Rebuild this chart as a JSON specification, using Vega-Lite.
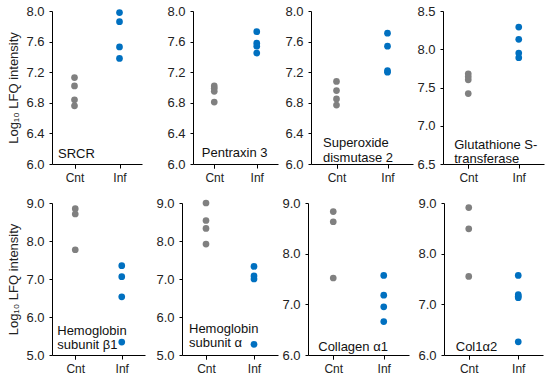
{
  "$schema": "https://vega.github.io/schema/vega-lite/v6.json",
  "padding": {"left": 7, "top": 5, "right": 2, "bottom": 2},
  "background": "white",
  "datasets": {
    "lfq": [
      {"protein": "SRCR", "group": "Cnt", "value": 7.13},
      {"protein": "SRCR", "group": "Cnt", "value": 7.02},
      {"protein": "SRCR", "group": "Cnt", "value": 6.84},
      {"protein": "SRCR", "group": "Cnt", "value": 6.76},
      {"protein": "SRCR", "group": "Inf", "value": 7.98},
      {"protein": "SRCR", "group": "Inf", "value": 7.86},
      {"protein": "SRCR", "group": "Inf", "value": 7.53},
      {"protein": "SRCR", "group": "Inf", "value": 7.38},
      {"protein": "PTX3", "group": "Cnt", "value": 7.02},
      {"protein": "PTX3", "group": "Cnt", "value": 6.99},
      {"protein": "PTX3", "group": "Cnt", "value": 6.95},
      {"protein": "PTX3", "group": "Cnt", "value": 6.81},
      {"protein": "PTX3", "group": "Inf", "value": 7.73},
      {"protein": "PTX3", "group": "Inf", "value": 7.58},
      {"protein": "PTX3", "group": "Inf", "value": 7.54},
      {"protein": "PTX3", "group": "Inf", "value": 7.45},
      {"protein": "SOD2", "group": "Cnt", "value": 7.08},
      {"protein": "SOD2", "group": "Cnt", "value": 6.96},
      {"protein": "SOD2", "group": "Cnt", "value": 6.85},
      {"protein": "SOD2", "group": "Cnt", "value": 6.77},
      {"protein": "SOD2", "group": "Inf", "value": 7.71},
      {"protein": "SOD2", "group": "Inf", "value": 7.54},
      {"protein": "SOD2", "group": "Inf", "value": 7.22},
      {"protein": "SOD2", "group": "Inf", "value": 7.2},
      {"protein": "GST", "group": "Cnt", "value": 7.68},
      {"protein": "GST", "group": "Cnt", "value": 7.64},
      {"protein": "GST", "group": "Cnt", "value": 7.6},
      {"protein": "GST", "group": "Cnt", "value": 7.42},
      {"protein": "GST", "group": "Inf", "value": 8.29},
      {"protein": "GST", "group": "Inf", "value": 8.13},
      {"protein": "GST", "group": "Inf", "value": 7.95},
      {"protein": "GST", "group": "Inf", "value": 7.89},
      {"protein": "HBB", "group": "Cnt", "value": 8.85},
      {"protein": "HBB", "group": "Cnt", "value": 8.71},
      {"protein": "HBB", "group": "Cnt", "value": 7.77},
      {"protein": "HBB", "group": "Inf", "value": 7.35},
      {"protein": "HBB", "group": "Inf", "value": 7.06},
      {"protein": "HBB", "group": "Inf", "value": 6.53},
      {"protein": "HBB", "group": "Inf", "value": 5.34},
      {"protein": "HBA", "group": "Cnt", "value": 9.0},
      {"protein": "HBA", "group": "Cnt", "value": 8.54},
      {"protein": "HBA", "group": "Cnt", "value": 8.33},
      {"protein": "HBA", "group": "Cnt", "value": 7.92},
      {"protein": "HBA", "group": "Inf", "value": 7.33},
      {"protein": "HBA", "group": "Inf", "value": 7.08},
      {"protein": "HBA", "group": "Inf", "value": 7.0},
      {"protein": "HBA", "group": "Inf", "value": 5.28},
      {"protein": "COL1A1", "group": "Cnt", "value": 8.83},
      {"protein": "COL1A1", "group": "Cnt", "value": 8.63},
      {"protein": "COL1A1", "group": "Cnt", "value": 7.52},
      {"protein": "COL1A1", "group": "Inf", "value": 7.57},
      {"protein": "COL1A1", "group": "Inf", "value": 7.18},
      {"protein": "COL1A1", "group": "Inf", "value": 6.95},
      {"protein": "COL1A1", "group": "Inf", "value": 6.66},
      {"protein": "COL1A2", "group": "Cnt", "value": 8.91},
      {"protein": "COL1A2", "group": "Cnt", "value": 8.49},
      {"protein": "COL1A2", "group": "Cnt", "value": 7.55},
      {"protein": "COL1A2", "group": "Inf", "value": 7.57},
      {"protein": "COL1A2", "group": "Inf", "value": 7.19},
      {"protein": "COL1A2", "group": "Inf", "value": 7.16},
      {"protein": "COL1A2", "group": "Inf", "value": 7.13},
      {"protein": "COL1A2", "group": "Inf", "value": 6.26}
    ],
    "labels": [
      {"protein": "SRCR", "label": ["SRCR"]},
      {"protein": "PTX3", "label": ["Pentraxin  3"]},
      {"protein": "SOD2", "label": ["Superoxide", "dismutase  2"]},
      {"protein": "GST", "label": ["Glutathione  S-", "transferase"]},
      {"protein": "HBB", "label": ["Hemoglobin", "subunit  β1"]},
      {"protein": "HBA", "label": ["Hemoglobin", "subunit  α"]},
      {"protein": "COL1A1", "label": ["Collagen  α1"]},
      {"protein": "COL1A2", "label": ["Col1α2"]}
    ]
  },
  "vconcat": [
    {
      "spacing": 24,
      "hconcat": [
        {
          "width": 90, "height": 153,
          "layer": [
            {
              "data": {"name": "lfq"},
              "transform": [{"filter": "datum.protein === 'SRCR'"}],
              "mark": {"type": "circle", "size": 45, "opacity": 1},
              "encoding": {
                "x": {"field": "group", "type": "nominal", "scale": {"domain": ["Cnt", "Inf"], "paddingInner": 0, "paddingOuter": 0}, "axis": {"title": null}},
                "y": {"field": "value", "type": "quantitative", "scale": {"domain": [6, 8], "nice": false, "zero": false}, "axis": {"values": [6, 6.4, 6.8, 7.2, 7.6, 8], "tickCount": 20, "format": ".1f", "labelOverlap": false, "title": "Log₁₀ LFQ intensity"}},
                "color": {"field": "group", "type": "nominal", "scale": {"domain": ["Cnt", "Inf"], "range": ["#808080", "#0070C0"]}, "legend": null}
              }
            },
            {
              "data": {"name": "labels"},
              "transform": [{"filter": "datum.protein === 'SRCR'"}],
              "mark": {"type": "text", "align": "left", "baseline": "bottom", "dx": -16.5, "dy": -3, "fontSize": 13, "lineHeight": 15, "font": "Liberation Sans", "color": "#111"},
              "encoding": {
                "x": {"datum": "Cnt", "type": "nominal"},
                "y": {"datum": 6, "type": "quantitative"},
                "text": {"field": "label"}
              }
            }
          ]
        },
        {
          "spacing": 6,
          "hconcat": [
            {
              "width": 85, "height": 153,
              "layer": [
                {
                  "data": {"name": "lfq"},
                  "transform": [{"filter": "datum.protein === 'PTX3'"}],
                  "mark": {"type": "circle", "size": 45, "opacity": 1},
                  "encoding": {
                    "x": {"field": "group", "type": "nominal", "scale": {"domain": ["Cnt", "Inf"], "paddingInner": 0, "paddingOuter": 0}, "axis": {"title": null}},
                    "y": {"field": "value", "type": "quantitative", "scale": {"domain": [6, 8], "nice": false, "zero": false}, "axis": {"values": [6, 6.4, 6.8, 7.2, 7.6, 8], "tickCount": 20, "format": ".1f", "labelOverlap": false, "title": null}},
                    "color": {"field": "group", "type": "nominal", "scale": {"domain": ["Cnt", "Inf"], "range": ["#808080", "#0070C0"]}, "legend": null}
                  }
                },
                {
                  "data": {"name": "labels"},
                  "transform": [{"filter": "datum.protein === 'PTX3'"}],
                  "mark": {"type": "text", "align": "left", "baseline": "bottom", "dx": -12.5, "dy": -4, "fontSize": 13, "lineHeight": 15, "font": "Liberation Sans", "color": "#111"},
                  "encoding": {
                    "x": {"datum": "Cnt", "type": "nominal"},
                    "y": {"datum": 6, "type": "quantitative"},
                    "text": {"field": "label"}
                  }
                }
              ]
            },
            {
              "spacing": 3,
              "hconcat": [
                {
                  "width": 102, "height": 153,
                  "layer": [
                    {
                      "data": {"name": "lfq"},
                      "transform": [{"filter": "datum.protein === 'SOD2'"}],
                      "mark": {"type": "circle", "size": 45, "opacity": 1},
                      "encoding": {
                        "x": {"field": "group", "type": "nominal", "scale": {"domain": ["Cnt", "Inf"], "paddingInner": 0, "paddingOuter": 0}, "axis": {"title": null}},
                        "y": {"field": "value", "type": "quantitative", "scale": {"domain": [6, 8], "nice": false, "zero": false}, "axis": {"values": [6, 6.4, 6.8, 7.2, 7.6, 8], "tickCount": 20, "format": ".1f", "labelOverlap": false, "title": null}},
                        "color": {"field": "group", "type": "nominal", "scale": {"domain": ["Cnt", "Inf"], "range": ["#808080", "#0070C0"]}, "legend": null}
                      }
                    },
                    {
                      "data": {"name": "labels"},
                      "transform": [{"filter": "datum.protein === 'SOD2'"}],
                      "mark": {"type": "text", "align": "left", "baseline": "bottom", "dx": -13.5, "dy": -14, "fontSize": 13, "lineHeight": 15, "font": "Liberation Sans", "color": "#111"},
                      "encoding": {
                        "x": {"datum": "Cnt", "type": "nominal"},
                        "y": {"datum": 6, "type": "quantitative"},
                        "text": {"field": "label"}
                      }
                    }
                  ]
                },
                {
                  "width": 101, "height": 153,
                  "layer": [
                    {
                      "data": {"name": "lfq"},
                      "transform": [{"filter": "datum.protein === 'GST'"}],
                      "mark": {"type": "circle", "size": 45, "opacity": 1},
                      "encoding": {
                        "x": {"field": "group", "type": "nominal", "scale": {"domain": ["Cnt", "Inf"], "paddingInner": 0, "paddingOuter": 0}, "axis": {"title": null}},
                        "y": {"field": "value", "type": "quantitative", "scale": {"domain": [6.5, 8.5], "nice": false, "zero": false}, "axis": {"values": [6.5, 7, 7.5, 8, 8.5], "tickCount": 20, "format": ".1f", "labelOverlap": false, "title": null}},
                        "color": {"field": "group", "type": "nominal", "scale": {"domain": ["Cnt", "Inf"], "range": ["#808080", "#0070C0"]}, "legend": null}
                      }
                    },
                    {
                      "data": {"name": "labels"},
                      "transform": [{"filter": "datum.protein === 'GST'"}],
                      "mark": {"type": "text", "align": "left", "baseline": "bottom", "dx": -14, "dy": -12, "fontSize": 13, "lineHeight": 14, "font": "Liberation Sans", "color": "#111"},
                      "encoding": {
                        "x": {"datum": "Cnt", "type": "nominal"},
                        "y": {"datum": 6.5, "type": "quantitative"},
                        "text": {"field": "label"}
                      }
                    }
                  ]
                }
              ]
            }
          ]
        }
      ]
    },
    {
      "spacing": 10,
      "hconcat": [
        {
          "width": 93, "height": 152,
          "layer": [
            {
              "data": {"name": "lfq"},
              "transform": [{"filter": "datum.protein === 'HBB'"}],
              "mark": {"type": "circle", "size": 45, "opacity": 1},
              "encoding": {
                "x": {"field": "group", "type": "nominal", "scale": {"domain": ["Cnt", "Inf"], "paddingInner": 0, "paddingOuter": 0}, "axis": {"title": null}},
                "y": {"field": "value", "type": "quantitative", "scale": {"domain": [5, 9], "nice": false, "zero": false}, "axis": {"values": [5, 6, 7, 8, 9], "tickCount": 20, "format": ".1f", "labelOverlap": false, "title": "Log₁₀ LFQ intensity"}},
                "color": {"field": "group", "type": "nominal", "scale": {"domain": ["Cnt", "Inf"], "range": ["#808080", "#0070C0"]}, "legend": null}
              }
            },
            {
              "data": {"name": "labels"},
              "transform": [{"filter": "datum.protein === 'HBB'"}],
              "mark": {"type": "text", "align": "left", "baseline": "bottom", "dx": -18, "dy": -17, "fontSize": 13, "lineHeight": 14, "font": "Liberation Sans", "color": "#111"},
              "encoding": {
                "x": {"datum": "Cnt", "type": "nominal"},
                "y": {"datum": 5, "type": "quantitative"},
                "text": {"field": "label"}
              }
            }
          ]
        },
        {
          "spacing": 3,
          "hconcat": [
            {
              "width": 96, "height": 152,
              "layer": [
                {
                  "data": {"name": "lfq"},
                  "transform": [{"filter": "datum.protein === 'HBA'"}],
                  "mark": {"type": "circle", "size": 45, "opacity": 1},
                  "encoding": {
                    "x": {"field": "group", "type": "nominal", "scale": {"domain": ["Cnt", "Inf"], "paddingInner": 0, "paddingOuter": 0}, "axis": {"title": null}},
                    "y": {"field": "value", "type": "quantitative", "scale": {"domain": [5, 9], "nice": false, "zero": false}, "axis": {"values": [5, 6, 7, 8, 9], "tickCount": 20, "format": ".1f", "labelOverlap": false, "title": null}},
                    "color": {"field": "group", "type": "nominal", "scale": {"domain": ["Cnt", "Inf"], "range": ["#808080", "#0070C0"]}, "legend": null}
                  }
                },
                {
                  "data": {"name": "labels"},
                  "transform": [{"filter": "datum.protein === 'HBA'"}],
                  "mark": {"type": "text", "align": "left", "baseline": "bottom", "dx": -17, "dy": -19, "fontSize": 13, "lineHeight": 14, "font": "Liberation Sans", "color": "#111"},
                  "encoding": {
                    "x": {"datum": "Cnt", "type": "nominal"},
                    "y": {"datum": 5, "type": "quantitative"},
                    "text": {"field": "label"}
                  }
                }
              ]
            },
            {
              "spacing": 8,
              "hconcat": [
                {
                  "width": 101, "height": 152,
                  "layer": [
                    {
                      "data": {"name": "lfq"},
                      "transform": [{"filter": "datum.protein === 'COL1A1'"}],
                      "mark": {"type": "circle", "size": 45, "opacity": 1},
                      "encoding": {
                        "x": {"field": "group", "type": "nominal", "scale": {"domain": ["Cnt", "Inf"], "paddingInner": 0, "paddingOuter": 0}, "axis": {"title": null}},
                        "y": {"field": "value", "type": "quantitative", "scale": {"domain": [6, 9], "nice": false, "zero": false}, "axis": {"values": [6, 7, 8, 9], "tickCount": 20, "format": ".1f", "labelOverlap": false, "title": null}},
                        "color": {"field": "group", "type": "nominal", "scale": {"domain": ["Cnt", "Inf"], "range": ["#808080", "#0070C0"]}, "legend": null}
                      }
                    },
                    {
                      "data": {"name": "labels"},
                      "transform": [{"filter": "datum.protein === 'COL1A1'"}],
                      "mark": {"type": "text", "align": "left", "baseline": "bottom", "dx": -15, "dy": -1, "fontSize": 13, "lineHeight": 14, "font": "Liberation Sans", "color": "#111"},
                      "encoding": {
                        "x": {"datum": "Cnt", "type": "nominal"},
                        "y": {"datum": 6, "type": "quantitative"},
                        "text": {"field": "label"}
                      }
                    }
                  ]
                },
                {
                  "width": 99, "height": 152,
                  "layer": [
                    {
                      "data": {"name": "lfq"},
                      "transform": [{"filter": "datum.protein === 'COL1A2'"}],
                      "mark": {"type": "circle", "size": 45, "opacity": 1},
                      "encoding": {
                        "x": {"field": "group", "type": "nominal", "scale": {"domain": ["Cnt", "Inf"], "paddingInner": 0, "paddingOuter": 0}, "axis": {"title": null}},
                        "y": {"field": "value", "type": "quantitative", "scale": {"domain": [6, 9], "nice": false, "zero": false}, "axis": {"values": [6, 7, 8, 9], "tickCount": 20, "format": ".1f", "labelOverlap": false, "title": null}},
                        "color": {"field": "group", "type": "nominal", "scale": {"domain": ["Cnt", "Inf"], "range": ["#808080", "#0070C0"]}, "legend": null}
                      }
                    },
                    {
                      "data": {"name": "labels"},
                      "transform": [{"filter": "datum.protein === 'COL1A2'"}],
                      "mark": {"type": "text", "align": "left", "baseline": "bottom", "dx": -13, "dy": -1, "fontSize": 13, "lineHeight": 14, "font": "Liberation Sans", "color": "#111"},
                      "encoding": {
                        "x": {"datum": "Cnt", "type": "nominal"},
                        "y": {"datum": 6, "type": "quantitative"},
                        "text": {"field": "label"}
                      }
                    }
                  ]
                }
              ]
            }
          ]
        }
      ]
    }
  ],
  "spacing": 14,
  "config": {
    "view": {"stroke": null},
    "font": "Liberation Sans",
    "axis": {
      "grid": false,
      "domainColor": "#000",
      "domainWidth": 1,
      "tickColor": "#000",
      "tickWidth": 1,
      "labelFont": "Liberation Sans",
      "labelColor": "#222",
      "labelOverlap": false,
      "titleFont": "Liberation Sans",
      "titleFontWeight": "normal",
      "titleFontSize": 13,
      "titleColor": "#222",
      "titlePadding": 5
    },
    "axisY": {"tickSize": 3, "labelPadding": 5, "labelFontSize": 13},
    "axisX": {"tickSize": 4, "labelPadding": 4, "labelAngle": 0, "labelFontSize": 12, "tickBand": "extent"}
  }
}
